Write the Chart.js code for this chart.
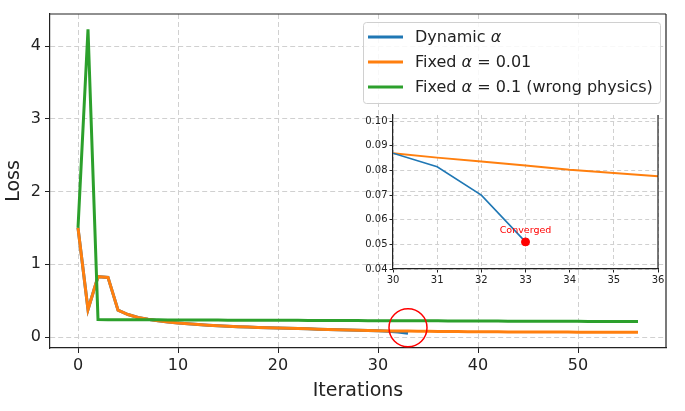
<!DOCTYPE html>
<html lang="en">
<head>
<meta charset="UTF-8">
<title>Loss vs Iterations</title>
<script src="https://cdn.jsdelivr.net/npm/chart.js"></script>
<style>
  html, body { margin: 0; padding: 0; background: #fff; }
  #wrap { position: relative; width: 685px; height: 411px; }
  #mainChart { position: absolute; left: 0; top: 0; }
  #insetChart { position: absolute; left: 350px; top: 105px; }
</style>
</head>
<body>
<div id="wrap">
  <canvas id="mainChart" width="685" height="411"></canvas>
  <canvas id="insetChart" width="320" height="185"></canvas>
</div>
<script>
// --- data ---
const iterations = [0,1,2,3,4,5,6,7,8,9,10,11,12,13,14,15,16,17,18,19,20,21,22,23,24,25,26,27,28,29,30,
  31,32,33,34,35,36,37,38,39,40,41,42,43,44,45,46,47,48,49,50,51,52,53,54,55,56];

const dynamicLoss = [1.5,0.38,0.83,0.82,0.37,0.31,0.27,0.245,0.225,0.208,0.195,0.183,0.173,0.164,0.156,0.149,
  0.143,0.138,0.133,0.129,0.125,0.121,0.117,0.113,0.109,0.105,0.101,0.098,0.094,0.090,0.087,0.0815,0.070,0.051];

const fixedSmallLoss = [1.5,0.38,0.83,0.82,0.37,0.31,0.27,0.245,0.225,0.208,0.195,0.183,0.173,0.164,0.156,0.149,
  0.143,0.138,0.133,0.129,0.125,0.121,0.117,0.113,0.109,0.105,0.101,0.098,0.094,0.090,0.087,0.0852,0.0836,0.082,
  0.0803,0.079,0.0776,0.0763,0.0752,0.0742,0.0733,0.0725,0.0718,0.0712,0.0706,0.0701,0.0696,0.0692,0.0688,0.0684,
  0.068,0.0677,0.0674,0.0671,0.0668,0.0665,0.0662];

const fixedBigLoss = [1.5,4.23,0.24,0.239,0.239,0.238,0.238,0.237,0.237,0.236,0.236,0.235,0.235,0.234,0.234,
  0.233,0.233,0.232,0.232,0.231,0.231,0.230,0.230,0.229,0.229,0.228,0.228,0.227,0.227,0.226,0.226,0.225,0.225,
  0.224,0.224,0.223,0.223,0.222,0.222,0.221,0.221,0.220,0.220,0.219,0.219,0.218,0.218,0.217,0.217,0.216,0.216,
  0.215,0.215,0.214,0.214,0.213,0.213];

const seriesNames = [
  ['Dynamic ', {it: 'α'}],
  ['Fixed ', {it: 'α'}, ' = 0.01'],
  ['Fixed ', {it: 'α'}, ' = 0.1 (wrong physics)']
];
const seriesColors = ['#1f77b4', '#ff7f0e', '#2ca02c'];

const mainXTicks = [0, 10, 20, 30, 40, 50];
const mainYTicks = [0, 1, 2, 3, 4];
const insetXTicks = [30, 31, 32, 33, 34, 35, 36];
const insetYTicks = [0.04, 0.05, 0.06, 0.07, 0.08, 0.09, 0.10];

const convergedAt = 33;
const highlightPoint = [{x: 33, y: 0.128}];

const FONT = "'DejaVu Sans', sans-serif";
const INK = '#222';
const GRID = '#d0d0d0';

function toXY(xs, ys) {
  return ys.map((v, i) => ({x: xs[i], y: v}));
}
function nameOf(parts) {
  return parts.map(p => typeof p === 'string' ? p : p.it).join('');
}
// fixed axis size, no extra room for half tick labels
function fixSize(prop, size) {
  return s => {
    s[prop] = size;
    s.paddingTop = s.paddingBottom = s.paddingLeft = s.paddingRight = 0;
  };
}

// draws the remaining sides of the plot box
const frame = {
  id: 'frame',
  afterDatasetsDraw(chart, args, opts) {
    const a = chart.chartArea, ctx = chart.ctx;
    ctx.save();
    ctx.setLineDash([]);
    ctx.strokeStyle = INK;
    ctx.lineWidth = opts.width || 1.2;
    ctx.beginPath();
    if (opts.top !== false) { ctx.moveTo(a.left, a.top); ctx.lineTo(a.right, a.top); }
    ctx.moveTo(a.right, a.top); ctx.lineTo(a.right, a.bottom);
    ctx.stroke();
    ctx.restore();
  }
};

// legend box in the upper right of the main axes
const boxLegend = {
  id: 'boxLegend',
  afterDraw(chart) {
    const ctx = chart.ctx, a = chart.chartArea;
    const x0 = a.right - 303, y0 = a.top + 8, w = 297, h = 81;
    ctx.save();
    ctx.fillStyle = 'rgba(255,255,255,0.85)';
    ctx.strokeStyle = '#d0d0d0';
    ctx.lineWidth = 1;
    ctx.beginPath();
    ctx.roundRect(x0 + 0.5, y0 + 0.5, w, h, 3);
    ctx.fill();
    ctx.stroke();
    seriesNames.forEach((parts, i) => {
      const cy = y0 + 15 + i * 25;
      ctx.strokeStyle = seriesColors[i];
      ctx.lineWidth = 3;
      ctx.beginPath();
      ctx.moveTo(x0 + 5, cy);
      ctx.lineTo(x0 + 40, cy);
      ctx.stroke();
      let tx = x0 + 52;
      ctx.fillStyle = INK;
      ctx.textBaseline = 'middle';
      parts.forEach(p => {
        const isIt = typeof p !== 'string';
        ctx.font = (isIt ? 'italic ' : '') + '16px ' + FONT;
        const s = isIt ? p.it : p;
        ctx.fillText(s, tx, cy + 1);
        tx += ctx.measureText(s).width;
      });
    });
    ctx.restore();
  }
};

new Chart(document.getElementById('mainChart'), {
  type: 'line',
  data: {
    datasets: [
      {
        label: nameOf(seriesNames[0]),
        data: toXY(iterations, dynamicLoss),
        borderColor: seriesColors[0], borderWidth: 3, pointRadius: 0, order: 3
      },
      {
        label: nameOf(seriesNames[1]),
        data: toXY(iterations, fixedSmallLoss),
        borderColor: seriesColors[1], borderWidth: 3, pointRadius: 0, order: 2
      },
      {
        label: nameOf(seriesNames[2]),
        data: toXY(iterations, fixedBigLoss),
        borderColor: seriesColors[2], borderWidth: 3, pointRadius: 0, order: 1
      },
      {
        label: 'highlight',
        data: highlightPoint,
        showLine: false,
        pointRadius: 19,
        pointBorderColor: 'red',
        pointBackgroundColor: 'rgba(0,0,0,0)',
        pointBorderWidth: 1.5,
        order: 0
      }
    ]
  },
  options: {
    responsive: false,
    animation: false,
    layout: { autoPadding: false, padding: { top: 14, right: 19, left: 0, bottom: 0 } },
    plugins: { legend: { display: false }, tooltip: { enabled: false }, frame: { top: true } },
    scales: {
      x: {
        type: 'linear', min: -2.8, max: 58.8,
        afterBuildTicks: s => { s.ticks = mainXTicks.map(v => ({value: v})); },
        afterFit: fixSize('height', 63),
        ticks: { font: { family: FONT, size: 16 }, color: INK, padding: 3 },
        grid: { color: GRID, tickColor: INK, tickLength: 5, tickBorderDash: [] },
        border: { display: true, color: INK, width: 1.2, dash: [5, 3] },
        title: { display: true, text: 'Iterations', font: { family: FONT, size: 19 }, color: INK, padding: { top: 2, bottom: 9 } }
      },
      y: {
        type: 'linear', min: -0.15, max: 4.44,
        afterBuildTicks: s => { s.ticks = mainYTicks.map(v => ({value: v})); },
        afterFit: fixSize('width', 50),
        ticks: { font: { family: FONT, size: 16 }, color: INK, padding: 4 },
        grid: { color: GRID, tickColor: INK, tickLength: 5, tickBorderDash: [] },
        border: { display: true, color: INK, width: 1.2, dash: [5, 3] },
        title: { display: true, text: 'Loss', font: { family: FONT, size: 19 }, color: INK, padding: { top: 3, bottom: 2 } }
      }
    }
  },
  plugins: [frame, boxLegend]
});

// inset: zoom on iterations 30-36
const convergedLabel = {
  id: 'convergedLabel',
  afterDatasetsDraw(chart) {
    const ctx = chart.ctx;
    const px = chart.scales.x.getPixelForValue(convergedAt);
    const py = chart.scales.y.getPixelForValue(dynamicLoss[dynamicLoss.length - 1]);
    ctx.save();
    ctx.fillStyle = 'red';
    ctx.font = '9.5px ' + FONT;
    ctx.textAlign = 'center';
    ctx.textBaseline = 'bottom';
    ctx.fillText('Converged', px, py - 7);
    ctx.restore();
  }
};

const insetIters = iterations.filter(v => v >= 30 && v <= 36);
new Chart(document.getElementById('insetChart'), {
  type: 'line',
  data: {
    datasets: [
      {
        data: toXY(iterations, fixedSmallLoss).filter(p => p.x >= 30 && p.x <= 36),
        borderColor: seriesColors[1], borderWidth: 2, pointRadius: 0, order: 2
      },
      {
        data: toXY(iterations, dynamicLoss).filter(p => p.x >= 30),
        borderColor: seriesColors[0], borderWidth: 1.6, pointRadius: 0, order: 1
      },
      {
        data: [{x: convergedAt, y: dynamicLoss[dynamicLoss.length - 1]}],
        showLine: false, pointRadius: 4, pointBackgroundColor: 'red', pointBorderColor: 'red', order: 0
      }
    ]
  },
  options: {
    responsive: false,
    animation: false,
    layout: { autoPadding: false, padding: { top: 10, right: 12, left: 0, bottom: 0 } },
    plugins: { legend: { display: false }, tooltip: { enabled: false }, frame: { top: false, width: 1.2 } },
    scales: {
      x: {
        type: 'linear', min: insetIters[0], max: insetIters[insetIters.length - 1],
        afterBuildTicks: s => { s.ticks = insetXTicks.map(v => ({value: v})); },
        afterFit: fixSize('height', 21),
        ticks: { font: { family: FONT, size: 10 }, color: INK, padding: 2 },
        grid: { color: GRID, tickColor: INK, tickLength: 3.5, tickBorderDash: [] },
        border: { display: true, color: INK, width: 1.2, dash: [4, 3] }
      },
      y: {
        type: 'linear', min: 0.04, max: 0.1025,
        afterBuildTicks: s => { s.ticks = insetYTicks.map(v => ({value: v})); },
        afterFit: fixSize('width', 43),
        ticks: { font: { family: FONT, size: 10 }, color: INK, padding: 2, callback: v => v.toFixed(2) },
        grid: { color: GRID, tickColor: INK, tickLength: 3.5, tickBorderDash: [] },
        border: { display: true, color: INK, width: 1.2, dash: [4, 3] }
      }
    }
  },
  plugins: [frame, convergedLabel]
});
</script>
</body>
</html>
